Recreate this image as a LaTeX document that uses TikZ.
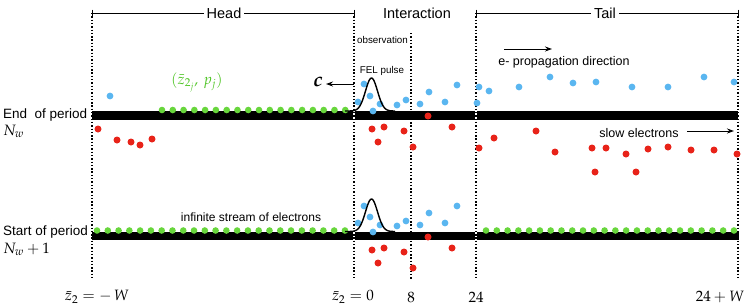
\documentclass[tikz,border=0pt]{standalone}
\usepackage{amsmath}
\usepackage{mathpazo}
\usepackage{fontspec}
\setmainfont{Liberation Sans}
\usetikzlibrary{arrows.meta}
\definecolor{eg}{RGB}{104,214,60}
\definecolor{eb}{RGB}{90,182,240}
\definecolor{er}{RGB}{232,35,25}
\definecolor{lg}{RGB}{78,196,36}
\tikzset{
  vdot/.style={line width=1.2bp, dash pattern=on 1.4bp off 1.9bp},
  barfill/.style={fill=black},
  bracketline/.style={line width=1bp},
  arr/.style={line width=1bp, -{Stealth[length=7bp,width=5bp]}},
  pulse/.style={line width=1.4bp, smooth},
  hdr/.style={font=\fontsize{14.5bp}{16bp}\selectfont, fill=white, inner sep=3bp},
  side/.style={font=\fontsize{13.5bp}{15bp}\selectfont, anchor=west, inner sep=0pt},
  sidem/.style={font=\fontsize{15bp}{17bp}\selectfont, anchor=west, inner sep=0pt},
  lbl/.style={font=\fontsize{12.5bp}{14bp}\selectfont, inner sep=0pt},
  lbls/.style={font=\fontsize{12bp}{14bp}\selectfont, inner sep=0pt},
  small/.style={font=\fontsize{9.8bp}{11bp}\selectfont, inner sep=0pt},
  mlab/.style={font=\fontsize{15bp}{17bp}\selectfont, inner sep=0pt},
  clab/.style={font=\fontsize{20bp}{22bp}\selectfont, inner sep=0pt},
}
\newcommand{\gdots}[3]{\foreach \i in {0,...,#3}{\fill[eg] ({#1+\i*10.78},#2) circle[radius=3.3bp];}}
\begin{document}
\begin{tikzpicture}[x=1bp,y=-1bp]
\useasboundingbox (0,0) rectangle (747,307);

% vertical dotted lines
\draw[vdot] (92,13) -- (92,280);
\draw[vdot] (354,13) -- (354,280);
\draw[vdot] (411,33) -- (411,280);
\draw[vdot] (476,13) -- (476,280);
\draw[vdot] (738,13) -- (738,280);

% brackets
\draw[bracketline] (92,9.5) -- (92,16.5) (92,13) -- (354,13) (354,9.5) -- (354,16.5);
\draw[bracketline] (476,9.5) -- (476,16.5) (476,13) -- (738,13) (738,9.5) -- (738,16.5);
\node[hdr] (head) at (224,13) {Head};
\node[hdr] (inter) at (417,13) {Interaction};
\node[hdr] (tail) at (605,13) {Tail};

% bars
\fill[barfill] (92,111) rectangle (353.3,119.5);
\fill[barfill] (354.7,111) rectangle (475.3,119.5);
\fill[barfill] (476.7,111) rectangle (738,119.5);
\fill[barfill] (92,231.5) rectangle (353.3,240);
\fill[barfill] (354.7,231.5) rectangle (475.3,240);
\fill[barfill] (476.7,231.5) rectangle (739,240);

% green dots
\gdots{162}{110}{17}
\gdots{97}{230.5}{23}
\gdots{486}{230.5}{23}

% blue dots
\foreach \p in {(110,96),(364,84),(358,102),(370,96),(373,111),(380,104),(397,105),(406,100),(420,104),(429,92),(445,102),(457,85),(477,103),
  (479,87),(489,91),(519,87),(550,77),(573,83),(596,82),(632,87),(668,87),(704,77),(734,82),
  (364,206),(358,223),(370,217),(373,232),(380,225),(397,226),(406,221),(420,225),(429,213),(445,223),(457,206)}
  {\fill[eb] \p circle[radius=3.4bp];}

% red dots
\foreach \p in {(98,129),(117,140),(131,142),(140,145),(152,139),
  (372,129),(384,127),(404,131),(428,116),(452,127),(378,142),(413,147),
  (479,148),(494,138),(536,131),(555,152),(592,148),(606,148),(626,154),(648,149),(668,147),(691,150),(714,150),(737,154),(595,172),(636,172),
  (372,250),(384,248),(404,252),(428,237),(452,248),(378,263),(413,268)}
  {\fill[er] \p circle[radius=3.5bp];}

% pulses
\draw[pulse] plot[domain=345:395, samples=60] (\x, {111 - 33*exp(-((\x-371.5)/6)^2/2)});
\draw[pulse] plot[domain=345:395, samples=60] (\x, {231.5 - 32.5*exp(-((\x-371.5)/6)^2/2)});

% texts
\node[small] (obs) at (382.5,40) {observation};
\node[small] (fel) at (382,71) {FEL pulse};
\node[mlab, text=lg] (zp) at (197,82) {$(\bar{z}_{2_j},\, p_j)$};
\coordinate (cstart) at (354,84);
\coordinate (cend) at (326,84);
\draw[arr] (cstart) -- (cend);
\node[clab] (clabel) at (318,82) {$\boldsymbol{c}$};

\coordinate (pa) at (504,49);
\coordinate (pb) at (552,49);
\draw[arr] (pa) -- (pb);
\node[lbl] (prop) at (564,62) {e- propagation direction};

\node[lbl] (slow) at (639,133) {slow electrons};
\coordinate (sa) at (687,131);
\coordinate (sb) at (734,131);
\draw[arr] (sa) -- (sb);

\node[lbls] (stream) at (251,217) {infinite stream of electrons};

\node[side] (endp) at (3,115) {End\ \ of period};
\node[sidem] (nw) at (3,131) {$N_w$};
\node[side] (startp) at (3,232) {Start of period};
\node[sidem] (nw1) at (3,249) {$N_w+1$};

% bottom labels
\node[mlab] (lw) at (97,297) {$\bar{z}_2 = -\,W$};
\node[mlab] (l0) at (353,297) {$\bar{z}_2 = 0$};
\node[mlab] (l8) at (411,297) {$8$};
\node[mlab] (l24) at (476,297) {$24$};
\node[mlab] (l24w) at (720,297) {$24 + W$};
\end{tikzpicture}
\end{document}
